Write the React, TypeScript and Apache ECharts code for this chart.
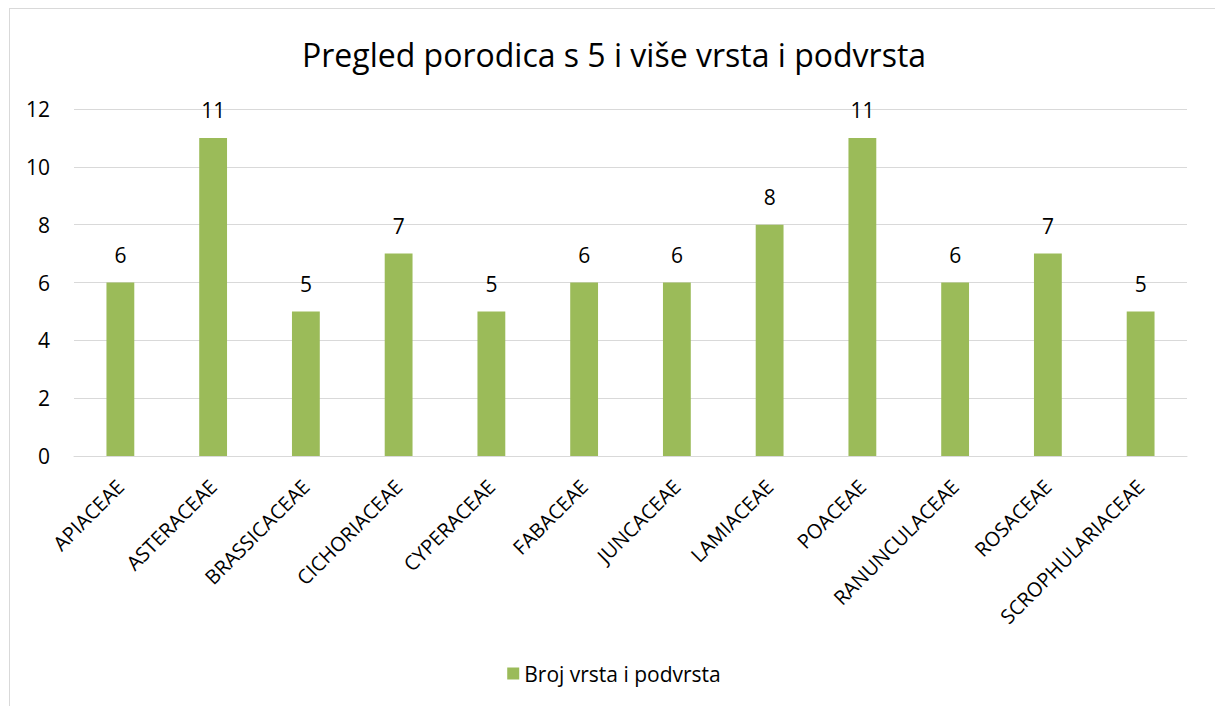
import React, { useEffect, useRef } from "react";
import * as echarts from "echarts";

const categories = [
  "APIACEAE",
  "ASTERACEAE",
  "BRASSICACEAE",
  "CICHORIACEAE",
  "CYPERACEAE",
  "FABACEAE",
  "JUNCACEAE",
  "LAMIACEAE",
  "POACEAE",
  "RANUNCULACEAE",
  "ROSACEAE",
  "SCROPHULARIACEAE",
];
const values = [6, 11, 5, 7, 5, 6, 6, 8, 11, 6, 7, 5];
const seriesName = "Broj vrsta i podvrsta";
const titleText = "Pregled porodica s 5 i više vrsta i podvrsta";

const FONT = "'Open Sans', 'Noto Sans', sans-serif";

export default function App() {
  const ref = useRef<HTMLDivElement>(null);
  useEffect(() => {
    if (!ref.current) return;
    const chart = echarts.init(ref.current, null, { renderer: "svg" });
    chart.setOption({
      animation: false,
      backgroundColor: "#ffffff",
      textStyle: { fontFamily: FONT },
      title: {
        text: titleText,
        left: "center",
        top: 24,
        textStyle: { fontFamily: FONT, fontSize: 32, fontWeight: "normal", color: "#000000" },
      },
      legend: {
        bottom: 38,
        left: "center",
        itemWidth: 12,
        itemHeight: 12,
        itemGap: 6,
        icon: "rect",
        textStyle: { fontFamily: FONT, fontSize: 21, color: "#000000" },
        data: [seriesName],
      },
      grid: { left: 64, right: 31, top: 100, bottom: 271, containLabel: false },
      xAxis: {
        type: "category",
        data: categories,
        axisLine: { show: true, lineStyle: { color: "#d9d9d9", width: 1 } },
        axisTick: { show: false },
        axisLabel: {
          interval: 0,
          rotate: 45,
          margin: 27,
          fontFamily: FONT,
          fontSize: 20,
          color: "#000000",
        },
      },
      yAxis: {
        type: "value",
        min: 0,
        max: 12,
        interval: 2,
        axisLine: { show: false },
        axisTick: { show: false },
        splitLine: { lineStyle: { color: "#d9d9d9", width: 1 } },
        axisLabel: { margin: 24, fontFamily: FONT, fontSize: 21, color: "#000000" },
      },
      series: [
        {
          name: seriesName,
          type: "bar",
          data: values,
          barWidth: "30%",
          itemStyle: { color: "#9bbb59" },
          label: {
            show: true,
            position: "top",
            distance: 17,
            fontFamily: FONT,
            fontSize: 21,
            color: "#000000",
          },
        },
      ],
    });
    return () => chart.dispose();
  }, []);
  return (
    <div
      style={{
        position: "fixed",
        left: 9,
        top: 8,
        width: 1210,
        height: 720,
        border: "1px solid #d9d9d9",
        boxSizing: "border-box",
        background: "#fff",
      }}
    >
      <div ref={ref} style={{ width: "100%", height: "100%" }} />
    </div>
  );
}
